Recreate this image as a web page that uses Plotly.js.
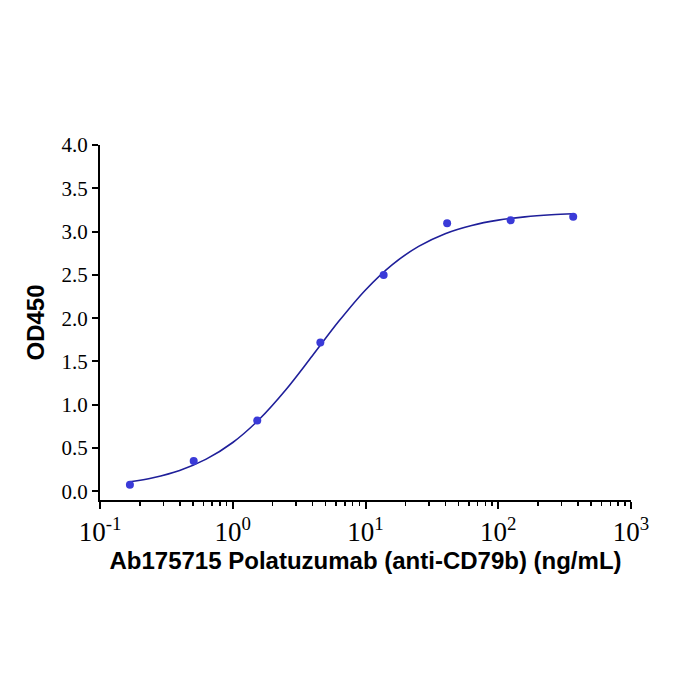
<!DOCTYPE html>
<html>
<head>
<meta charset="utf-8">
<script src="https://cdn.plot.ly/plotly-3.0.1.min.js"></script>
<style>html,body{margin:0;padding:0;background:#fff;}#chart{width:700px;height:700px;}</style>
</head>
<body>
<div id="chart"></div>
<script>
// Measured points
const concentration = [0.168, 0.508, 1.53, 4.57, 13.7, 41.2, 124, 367];
const od450 = [0.077, 0.35, 0.817, 1.72, 2.50, 3.095, 3.13, 3.17];
// Fitted curve
const curveX = [0.168, 0.251, 0.398, 0.631, 1, 1.585, 2.512, 3.981, 6.31, 10, 15.85, 25.12, 39.81, 63.1, 100, 158.5, 251.2, 367];
const curveY = [0.110, 0.158, 0.242, 0.372, 0.564, 0.832, 1.173, 1.566, 1.966, 2.326, 2.616, 2.829, 2.976, 3.071, 3.132, 3.170, 3.194, 3.206];
const yTicks = [0, 0.5, 1, 1.5, 2, 2.5, 3, 3.5, 4];
const yTickText = ['0.0', '0.5', '1.0', '1.5', '2.0', '2.5', '3.0', '3.5', '4.0'];
const xTicks = [0.1, 1, 10, 100, 1000];
const xTickText = ['10<sup>-1</sup>', '10<sup>0</sup>', '10<sup>1</sup>', '10<sup>2</sup>', '10<sup>3</sup>'];
const xTitle = 'Ab175715 Polatuzumab (anti-CD79b) (ng/mL)';
const yTitle = 'OD450';

const traces = [
  {x: curveX, y: curveY, mode: 'lines', type: 'scatter', line: {color: '#1f1f9a', width: 1.6, shape: 'spline'}, hoverinfo: 'skip'},
  {x: concentration, y: od450, mode: 'markers', type: 'scatter', marker: {color: '#3a3ad8', size: 8}}
];

const layout = {
  width: 700, height: 700,
  margin: {l: 100, r: 69, t: 145, b: 200},
  paper_bgcolor: '#fff', plot_bgcolor: '#fff',
  showlegend: false,
  xaxis: {
    type: 'log', range: [-1, 3], tickvals: xTicks, ticktext: xTickText,
    showgrid: false, zeroline: false,
    showline: true, linecolor: '#000', linewidth: 2,
    ticks: 'outside', ticklen: 7, tickwidth: 2, tickcolor: '#000',
    minor: {ticks: 'outside', ticklen: 4, tickwidth: 1.5, tickcolor: '#000', dtick: 'D1', showgrid: false},
    tickfont: {family: 'Liberation Serif, Times New Roman, serif', size: 27, color: '#000'},
    title: {text: xTitle, font: {family: 'Liberation Sans, Arial, sans-serif', size: 24, color: '#000', weight: 'bold'}, standoff: 0}
  },
  yaxis: {
    range: [-0.1, 4.0], tickvals: yTicks, ticktext: yTickText,
    showgrid: false, zeroline: false,
    showline: true, linecolor: '#000', linewidth: 2,
    ticks: 'outside', ticklen: 6, tickwidth: 2, tickcolor: '#000',
    tickfont: {family: 'Liberation Serif, Times New Roman, serif', size: 21, color: '#000'},
    title: {text: yTitle, font: {family: 'Liberation Sans, Arial, sans-serif', size: 24, color: '#000', weight: 'bold'}, standoff: 10}
  }
};

Plotly.newPlot('chart', traces, layout, {displayModeBar: false, staticPlot: true});
</script>
</body>
</html>
